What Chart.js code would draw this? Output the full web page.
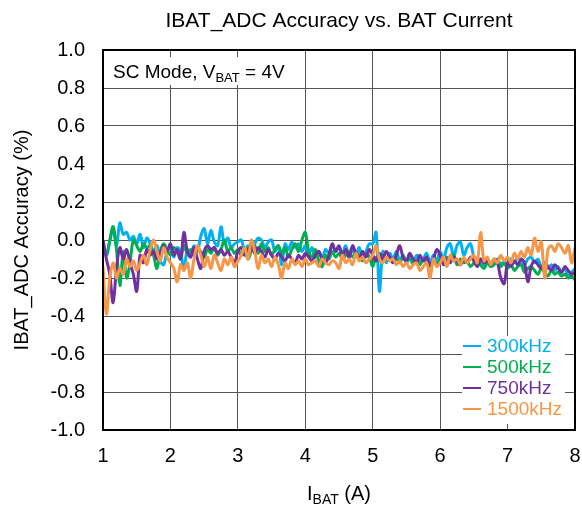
<!DOCTYPE html>
<html>
<head>
<meta charset="utf-8">
<script src="https://cdn.jsdelivr.net/npm/chart.js@4.4.1/dist/chart.umd.min.js"></script>
<style>
  body { margin: 0; background: #fff; }
  #wrap { width: 582px; height: 507px; }
</style>
</head>
<body>
<div id="wrap"><canvas id="myChart_adc" width="582" height="507"></canvas></div>
<script>
// battery current (A)
const iBat = [
  1.00,1.05,1.10,1.15,1.20,1.25,1.30,1.35,1.40,1.45,1.50,1.55,1.60,1.65,1.70,1.75,1.80,1.85,1.90,1.95,
  2.00,2.05,2.10,2.15,2.20,2.25,2.30,2.35,2.40,2.45,2.50,2.55,2.60,2.65,2.70,2.75,2.80,2.85,2.90,2.95,
  3.00,3.05,3.10,3.15,3.20,3.25,3.30,3.35,3.40,3.45,3.50,3.55,3.60,3.65,3.70,3.75,3.80,3.85,3.90,3.95,
  4.00,4.05,4.10,4.15,4.20,4.25,4.30,4.35,4.40,4.45,4.50,4.55,4.60,4.65,4.70,4.75,4.80,4.85,4.90,4.95,
  5.00,5.05,5.10,5.15,5.20,5.25,5.30,5.35,5.40,5.45,5.50,5.55,5.60,5.65,5.70,5.75,5.80,5.85,5.90,5.95,
  6.00,6.05,6.10,6.15,6.20,6.25,6.30,6.35,6.40,6.45,6.50,6.55,6.60,6.65,6.70,6.75,6.80,6.85,6.90,6.95,
  7.00,7.05,7.10,7.15,7.20,7.25,7.30,7.35,7.40,7.45,7.50,7.55,7.60,7.65,7.70,7.75,7.80,7.85,7.90,7.95,
  8.00
];

// accuracy (%) per switching frequency
const acc300k = [
  0.00,-0.08,-0.01,0.06,-0.03,0.09,0.03,0.04,0.00,0.02,-0.02,0.03,-0.04,0.01,-0.02,-0.06,-0.03,-0.11,-0.13,-0.06,
  -0.04,-0.09,-0.04,-0.06,-0.16,-0.05,-0.08,-0.03,-0.06,0.02,0.06,-0.02,0.05,-0.01,-0.03,0.07,-0.02,0.01,-0.04,-0.02,
  -0.01,0.00,-0.05,-0.03,-0.04,-0.02,0.01,0.00,-0.04,-0.01,0.00,-0.06,-0.03,-0.13,-0.02,-0.05,-0.01,-0.04,-0.02,-0.06,
  -0.03,-0.08,-0.04,-0.09,-0.06,-0.10,-0.05,-0.07,-0.03,-0.06,-0.04,-0.07,-0.03,-0.09,-0.05,-0.08,-0.04,-0.10,-0.06,-0.02,
  -0.02,0.04,-0.27,-0.06,-0.12,-0.07,-0.10,-0.06,-0.11,-0.08,-0.12,-0.09,-0.13,-0.08,-0.11,-0.10,-0.07,-0.12,-0.08,-0.11,
  -0.06,-0.10,-0.04,-0.02,-0.09,-0.03,-0.01,-0.08,-0.04,-0.02,-0.09,-0.12,-0.10,-0.13,-0.11,-0.14,-0.12,-0.10,-0.13,-0.11,
  -0.14,-0.10,-0.12,-0.09,-0.11,-0.13,-0.10,-0.09,-0.12,-0.10,-0.14,-0.12,-0.15,-0.13,-0.16,-0.14,-0.17,-0.15,-0.19,-0.17,
  -0.15
];
const acc500k = [
  -0.02,-0.08,0.00,0.07,-0.05,-0.24,-0.06,-0.20,-0.12,0.00,-0.03,-0.06,-0.02,-0.04,-0.03,-0.08,-0.15,-0.06,-0.02,-0.05,
  -0.08,-0.04,-0.06,-0.10,-0.03,-0.07,-0.05,-0.08,-0.04,-0.06,-0.09,-0.05,-0.07,-0.04,-0.08,-0.05,0.00,-0.06,-0.04,-0.07,
  -0.05,-0.08,-0.04,-0.10,-0.06,-0.03,-0.07,-0.02,-0.06,-0.04,-0.08,-0.05,-0.03,-0.07,-0.04,-0.09,-0.05,-0.02,-0.06,0.00,
  0.04,-0.06,-0.09,-0.05,-0.11,-0.14,-0.08,-0.10,-0.06,-0.09,-0.07,-0.10,-0.08,-0.06,-0.09,-0.07,-0.08,-0.11,-0.07,-0.09,
  -0.14,-0.09,-0.11,-0.08,-0.10,-0.09,-0.11,-0.10,-0.12,-0.09,-0.11,-0.10,-0.12,-0.11,-0.13,-0.10,-0.12,-0.14,-0.11,-0.13,
  -0.10,-0.12,-0.09,-0.11,-0.08,-0.13,-0.10,-0.12,-0.11,-0.14,-0.12,-0.10,-0.13,-0.15,-0.12,-0.14,-0.13,-0.11,-0.14,-0.12,
  -0.15,-0.13,-0.16,-0.14,-0.13,-0.17,-0.15,-0.14,-0.16,-0.18,-0.15,-0.17,-0.19,-0.16,-0.18,-0.17,-0.19,-0.18,-0.20,-0.19,
  -0.21
];
const acc750k = [
  0.00,-0.10,-0.18,-0.33,-0.15,-0.04,-0.10,-0.05,-0.12,-0.18,-0.27,-0.08,-0.12,-0.05,-0.08,-0.06,-0.10,-0.07,-0.03,-0.06,
  -0.02,-0.08,-0.05,-0.10,0.04,-0.06,-0.09,-0.04,-0.10,-0.15,-0.06,-0.03,-0.05,-0.04,-0.07,-0.05,-0.08,-0.06,-0.09,-0.12,
  -0.06,-0.04,-0.08,-0.05,-0.03,-0.07,-0.04,-0.06,-0.09,-0.05,-0.08,-0.10,-0.07,-0.09,-0.11,-0.08,-0.10,-0.12,-0.08,-0.10,
  -0.07,-0.09,-0.11,-0.08,-0.06,-0.10,-0.12,-0.08,-0.02,-0.06,-0.03,-0.08,-0.05,-0.09,-0.03,-0.07,-0.10,-0.06,-0.09,-0.05,
  -0.08,-0.11,-0.07,-0.10,-0.06,-0.09,-0.12,-0.08,-0.03,-0.09,-0.11,-0.07,-0.10,-0.12,-0.08,-0.11,-0.09,-0.13,-0.10,-0.05,
  -0.08,-0.13,-0.10,-0.12,-0.09,-0.11,-0.13,-0.10,-0.12,-0.09,-0.11,-0.14,-0.10,-0.12,-0.11,-0.13,-0.10,-0.12,-0.20,-0.23,
  -0.12,-0.14,-0.11,-0.13,-0.10,-0.12,-0.22,-0.14,-0.11,-0.13,-0.15,-0.12,-0.14,-0.16,-0.13,-0.15,-0.17,-0.14,-0.16,-0.18,
  -0.17
];
const acc1500k = [
  -0.14,-0.39,-0.20,-0.12,-0.20,-0.15,-0.18,-0.10,-0.14,-0.11,-0.16,-0.12,-0.08,-0.13,-0.05,0.00,-0.06,-0.11,-0.04,-0.09,
  -0.12,-0.15,-0.22,-0.13,-0.16,-0.12,-0.20,-0.10,-0.03,-0.08,-0.14,-0.09,-0.15,-0.08,-0.12,-0.16,-0.10,-0.13,-0.09,-0.14,
  -0.11,-0.08,-0.04,-0.10,0.00,-0.06,-0.15,-0.08,-0.12,-0.10,-0.14,-0.09,-0.13,-0.20,-0.12,-0.15,-0.10,-0.13,-0.11,-0.14,
  -0.10,-0.13,-0.12,-0.11,-0.14,-0.10,-0.12,-0.13,-0.11,-0.12,-0.15,-0.08,-0.12,-0.10,-0.13,-0.07,-0.11,-0.09,-0.12,-0.10,
  -0.08,-0.03,-0.10,-0.12,-0.09,-0.11,-0.10,-0.13,-0.11,-0.14,-0.12,-0.15,-0.13,-0.12,-0.16,-0.14,-0.12,-0.20,-0.10,-0.14,
  -0.12,-0.09,-0.14,-0.08,-0.11,-0.10,-0.13,-0.09,-0.12,-0.10,-0.08,-0.12,0.04,-0.11,-0.09,-0.13,-0.10,-0.12,-0.08,-0.11,
  -0.09,-0.12,-0.07,-0.10,-0.06,-0.09,-0.04,-0.08,0.01,-0.06,-0.01,-0.20,-0.05,-0.03,-0.06,-0.02,-0.04,-0.07,-0.03,-0.12,
  -0.04
];

const seriesNames = ['300kHz', '500kHz', '750kHz', '1500kHz'];
const seriesColors = ['#00B0F0', '#00B050', '#7030A0', '#F79646'];
const seriesData = [acc300k, acc500k, acc750k, acc1500k];

const FONT = "'Liberation Sans', Arial, sans-serif";

function pts(arr){
    return arr.map((v, i) => ({x: iBat[i], y: v}));
}

// title, axis titles, note box, legend, frame
const extras = {
    id: 'extras',
    afterDraw(chart){
        const ctx = chart.ctx;
        const a = chart.chartArea;
        const cx = (a.left + a.right) / 2;
        ctx.save();
        ctx.fillStyle = '#000';
        ctx.textBaseline = 'alphabetic';

        // frame
        ctx.strokeStyle = '#000';
        ctx.lineWidth = 2;
        ctx.strokeRect(a.left, a.top, a.right - a.left, a.bottom - a.top);

        // chart title
        ctx.font = '21px ' + FONT;
        ctx.textAlign = 'center';
        ctx.fillText('IBAT_ADC Accuracy vs. BAT Current', cx, 27);

        // y title
        ctx.font = '20px ' + FONT;
        ctx.save();
        ctx.translate(28, (a.top + a.bottom) / 2);
        ctx.rotate(-Math.PI / 2);
        ctx.fillText('IBAT_ADC Accuracy (%)', 0, 0);
        ctx.restore();

        // x title with subscript
        ctx.textAlign = 'left';
        const big = '20px ' + FONT, small = '14px ' + FONT;
        ctx.font = big; const w1 = ctx.measureText('I').width;
        ctx.font = small; const w2 = ctx.measureText('BAT').width;
        ctx.font = big; const w3 = ctx.measureText(' (A)').width;
        let x0 = cx - (w1 + w2 + w3) / 2;
        const by = 500;
        ctx.font = big; ctx.fillText('I', x0, by);
        ctx.font = small; ctx.fillText('BAT', x0 + w1, by + 4);
        ctx.font = big; ctx.fillText(' (A)', x0 + w1 + w2, by);

        // note box
        const nb = '19px ' + FONT, ns = '13px ' + FONT;
        ctx.fillStyle = '#fff';
        ctx.fillRect(a.left + 2, a.top + 7, 197, 28);
        ctx.fillStyle = '#000';
        let nx = a.left + 10, ny = a.top + 28;
        ctx.font = nb; ctx.fillText('SC Mode, V', nx, ny);
        nx += ctx.measureText('SC Mode, V').width;
        ctx.font = ns; ctx.fillText('BAT', nx, ny + 4);
        nx += ctx.measureText('BAT').width;
        ctx.font = nb; ctx.fillText(' = 4V', nx, ny);

        // legend
        ctx.fillStyle = '#fff';
        ctx.fillRect(462, 336, 103, 88);
        ctx.font = nb;
        ctx.textBaseline = 'middle';
        seriesNames.forEach((name, i) => {
            const ly = 346 + i * 21;
            ctx.strokeStyle = seriesColors[i];
            ctx.lineWidth = 2;
            ctx.beginPath();
            ctx.moveTo(463, ly);
            ctx.lineTo(481, ly);
            ctx.stroke();
            ctx.fillStyle = seriesColors[i];
            ctx.fillText(name, 487, ly + 1);
        });
        ctx.restore();
    }
};

const gphc_adc = document.getElementById('myChart_adc');
const graphic_adc = new Chart(gphc_adc, {
    type: 'line',
    data: {
        datasets: seriesData.map((arr, i) => ({
            label: seriesNames[i],
            data: pts(arr),
            borderColor: seriesColors[i],
            backgroundColor: seriesColors[i],
            borderWidth: 3,
            pointRadius: 0,
            tension: 0.35,
            order: 4 - i
        }))
    },
    options: {
        responsive: false,
        animation: false,
        layout: { padding: { top: 50, right: 7, left: 0, bottom: 0 } },
        scales: {
            x: {
                type: 'linear',
                min: 1, max: 8,
                afterFit: s => { s.height = 77; s.paddingLeft = 0; s.paddingRight = 0; },
                ticks: {
                    stepSize: 1,
                    color: '#000',
                    padding: 14,
                    font: { family: FONT, size: 20 }
                },
                grid: { color: '#555', lineWidth: 1, drawTicks: false },
                border: { color: '#000', width: 2 }
            },
            y: {
                min: -1, max: 1,
                afterFit: s => { s.width = 103; },
                ticks: {
                    stepSize: 0.2,
                    color: '#000',
                    padding: 18,
                    font: { family: FONT, size: 20 },
                    callback: v => v.toFixed(1)
                },
                grid: { color: '#555', lineWidth: 1, drawTicks: false },
                border: { color: '#000', width: 2 }
            }
        },
        plugins: {
            legend: { display: false },
            tooltip: { enabled: false }
        }
    },
    plugins: [extras]
});
</script>
</body>
</html>
